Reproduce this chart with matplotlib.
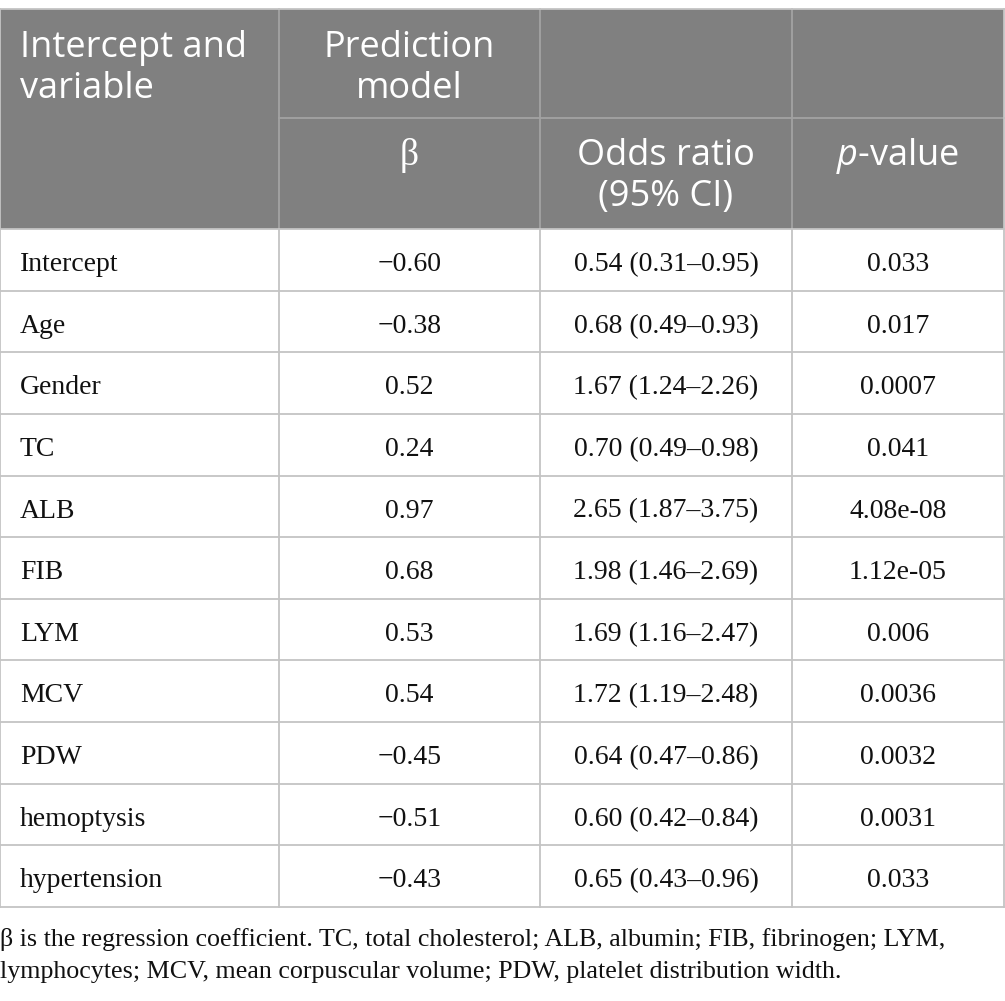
import matplotlib
matplotlib.use("Agg")
import matplotlib.pyplot as plt

# ---- data ----
variables = ["Intercept", "Age", "Gender", "TC", "ALB", "FIB", "LYM", "MCV",
             "PDW", "hemoptysis", "hypertension"]
beta = ["\u22120.60", "\u22120.38", "0.52", "0.24", "0.97", "0.68", "0.53", "0.54",
        "\u22120.45", "\u22120.51", "\u22120.43"]
odds_ratio = ["0.54 (0.31\u20130.95)", "0.68 (0.49\u20130.93)", "1.67 (1.24\u20132.26)",
              "0.70 (0.49\u20130.98)", "2.65 (1.87\u20133.75)", "1.98 (1.46\u20132.69)",
              "1.69 (1.16\u20132.47)", "1.72 (1.19\u20132.48)", "0.64 (0.47\u20130.86)",
              "0.60 (0.42\u20130.84)", "0.65 (0.43\u20130.96)"]
p_values = ["0.033", "0.017", "0.0007", "0.041", "4.08e-08", "1.12e-05", "0.006",
            "0.0036", "0.0032", "0.0031", "0.033"]
header_top = [["Intercept and", "variable"], ["Prediction", "model"], [], []]
header_sub = [[], ["\u03b2"], ["Odds ratio", "(95% CI)"], [r"$\it{p}$-value"]]
footnote = ["\u03b2 is the regression coefficient. TC, total cholesterol; ALB, albumin; FIB, fibrinogen; LYM,",
            "lymphocytes; MCV, mean corpuscular volume; PDW, platelet distribution width."]

# ---- layout (pixels) ----
W, H = 1005, 1001
col_edges = [0, 279, 540, 792, 1004]
table_top = 9
hdr_mid = 118
hdr_bot = 229
row_h = (907 - hdr_bot) / len(variables)

plt.rcParams['mathtext.fontset'] = 'custom'
plt.rcParams['mathtext.it'] = 'Open Sans:italic'
plt.rcParams['mathtext.rm'] = 'Open Sans'

fig = plt.figure(figsize=(W / 100, H / 100), dpi=100)
ax = fig.add_axes([0, 0, 1, 1])
ax.set_xlim(0, W)
ax.set_ylim(H, 0)
ax.axis("off")

hdr_color = "#808080"
line_color = "#c4c4c4"
hdr_line = "#a3a3a3"
lw = 1.3

# header background
ax.add_patch(plt.Rectangle((col_edges[0], table_top), col_edges[-1] - col_edges[0],
                           hdr_bot - table_top, color=hdr_color, lw=0, zorder=0))

# header lines
ax.plot([col_edges[1], col_edges[-1]], [hdr_mid, hdr_mid], color=hdr_line, lw=lw, zorder=1)
for x in col_edges[1:-1]:
    ax.plot([x, x], [table_top, hdr_bot], color=hdr_line, lw=lw, zorder=1)

# body lines
n = len(variables)
bottom = hdr_bot + n * row_h
for i in range(n + 1):
    y = hdr_bot + i * row_h
    ax.plot([col_edges[0], col_edges[-1]], [y, y], color=line_color, lw=lw, zorder=2)
for x in col_edges:
    ax.plot([x, x], [hdr_bot, bottom], color=line_color, lw=lw, zorder=2)
ax.plot([col_edges[0], col_edges[-1]], [table_top, table_top], color=line_color, lw=lw, zorder=2)
ax.plot([col_edges[0], col_edges[0]], [table_top, hdr_bot], color=line_color, lw=lw, zorder=2)
ax.plot([col_edges[-1], col_edges[-1]], [table_top, hdr_bot], color=line_color, lw=lw, zorder=2)

hfont = dict(family="Open Sans", size=26, color="white")
bfont = dict(family="Liberation Serif", size=20, color="#111111")

centers = [(col_edges[i] + col_edges[i + 1]) / 2 for i in range(4)]
xpos = [20] + centers[1:]
has = ["left", "center", "center", "center"]
line_gap = 41

# header text
for c in range(4):
    for k, s in enumerate(header_top[c]):
        ax.text(xpos[c], 57 + k * line_gap, s, ha=has[c], va="baseline", **hfont)
    for k, s in enumerate(header_sub[c]):
        if s == "\u03b2":
            ax.text(xpos[c], 165, s, ha=has[c], va="baseline", family="Liberation Serif",
                    size=27, color="white")
        else:
            ax.text(xpos[c], 165 + k * line_gap, s, ha=has[c], va="baseline", **hfont)

# body text
cols = [variables, beta, odds_ratio, p_values]
for i in range(n):
    yb = hdr_bot + i * row_h + 42
    for c in range(4):
        ax.text(xpos[c], yb, cols[c][i], ha=has[c], va="baseline", **bfont)

# footnote
for k, s in enumerate(footnote):
    ax.text(0, 946 + k * 32, s, ha="left", va="baseline", family="Liberation Serif",
            size=18.7, color="#111111")

fig.savefig("out.png", dpi=100)
